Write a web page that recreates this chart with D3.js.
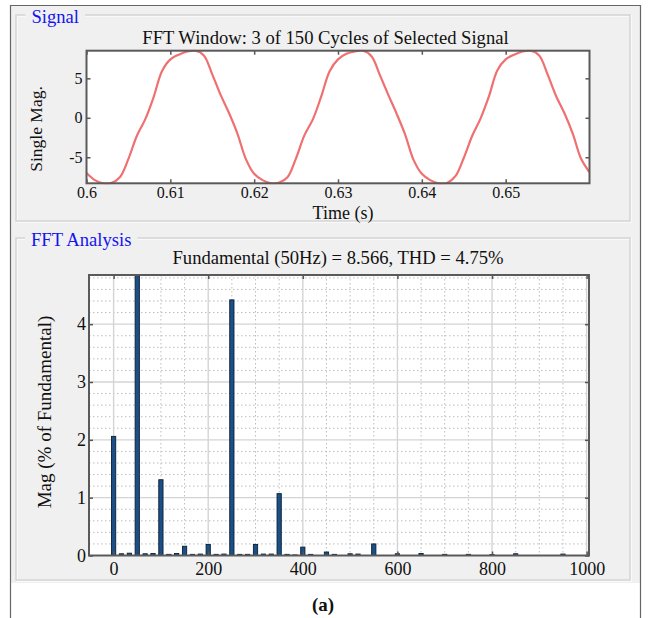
<!DOCTYPE html>
<html><head><meta charset="utf-8">
<script src="https://cdn.jsdelivr.net/npm/d3@7"></script>
<style>
body{margin:0;background:#fff}
svg{display:block}
text{font-family:"Liberation Serif","Times New Roman",serif;fill:#111}
</style>
</head><body>
<svg id="c" width="649" height="618"></svg>
<script>
// ---------- DATA ----------
const signalTimes = [
  0.600,0.601,0.602,0.603,0.604,0.605,0.606,0.607,0.608,0.609,
  0.610,0.611,0.612,0.613,0.614,0.615,0.616,0.617,0.618,0.619,
  0.620,0.621,0.622,0.623,0.624,0.625,0.626,0.627,0.628,0.629,
  0.630,0.631,0.632,0.633,0.634,0.635,0.636,0.637,0.638,0.639,
  0.640,0.641,0.642,0.643,0.644,0.645,0.646,0.647,0.648,0.649,
  0.650,0.651,0.652,0.653,0.654,0.655,0.656,0.657,0.658,0.659,
  0.660
];
const signalValues = [
  -7.0,-7.9,-8.3,-8.25,-7.5,-5.2,-2.3,-0.2,2.6,5.9,
  7.4,8.0,8.4,8.5,7.9,5.5,2.9,0.6,-2.0,-5.2,
  -7.1,-7.9,-8.3,-8.2,-7.5,-5.1,-2.2,-0.2,2.7,5.9,
  7.4,8.1,8.4,8.5,7.8,5.4,2.9,0.5,-2.1,-5.3,
  -7.1,-7.9,-8.3,-8.25,-7.4,-5.1,-2.3,-0.1,2.7,6.0,
  7.4,8.0,8.4,8.5,7.9,5.5,2.8,0.6,-2.0,-5.2,
  -6.9
];
const signalXTicks = [0.6,0.61,0.62,0.63,0.64,0.65];
const signalXTickLabels = ["0.6","0.61","0.62","0.63","0.64","0.65"];
const signalYTicks = [-5,0,5];
const signalYTickLabels = ["-5","0","5"];

const fftFreqs = [
  0,16.7,33.3,50,66.7,83.3,100,116.7,133.3,150,166.7,183.3,200,216.7,233.3,
  250,266.7,283.3,300,316.7,333.3,350,366.7,383.3,400,416.7,450,466.7,500,516.7,
  550,600,650,700,750,800,850,950
];
const fftMags = [
  2.06,0.03,0.04,100,0.03,0.035,1.31,0.02,0.035,0.16,0.02,0.025,0.19,0.02,0.025,
  4.42,0.02,0.02,0.19,0.025,0.025,1.07,0.02,0.01,0.145,0.02,0.06,0.02,0.03,0.025,
  0.2,0.03,0.035,0.02,0.02,0.015,0.03,0.025
];
const fftXTicks = [0,200,400,600,800,1000];
const fftXTickLabels = ["0","200","400","600","800","1000"];
const fftYTicks = [0,1,2,3,4];
const fftYTickLabels = ["0","1","2","3","4"];

// ---------- DRAW ----------
const svg = d3.select("#c");
const W = 649, H = 618;
const panelBg = "#f0f0f0";

svg.append("rect").attr("width",W).attr("height",H).attr("fill","#fff");
svg.append("rect").attr("x",11).attr("y",5).attr("width",629).attr("height",578).attr("fill",panelBg);
svg.append("path").attr("d","M10.5,618 V5.5 H640.5 V618").attr("fill","none").attr("stroke","#666").attr("stroke-width",1.2);

function panel(x0,y0,x1,y1,label,lx,ly){
  const g = svg.append("g");
  g.append("rect").attr("x",x0+1).attr("y",y0+1).attr("width",x1-x0).attr("height",y1-y0)
    .attr("fill","none").attr("stroke","#fbfbfb").attr("stroke-width",1.5);
  g.append("rect").attr("x",x0).attr("y",y0).attr("width",x1-x0).attr("height",y1-y0)
    .attr("fill","none").attr("stroke","#d4d4d4").attr("stroke-width",1.5);
  const t = g.append("text").attr("x",lx).attr("y",ly).attr("font-size",18.6)
    .style("fill","#1414f0").text(label);
  const bb = t.node().getBBox();
  g.insert("rect","text").attr("x",bb.x-6).attr("y",y0-4).attr("width",bb.width+12).attr("height",8).attr("fill",panelBg);
}
panel(16,15,630,221,"Signal",31.5,23);
panel(16,238,630,580,"FFT Analysis",31,246);

function styleAxis(sel){
  sel.select(".domain").remove();
  sel.selectAll(".tick line").attr("stroke","#555").attr("stroke-width",1.5);
  sel.selectAll(".tick text").style("fill","#111");
}

// ---------- Top plot ----------
const t0 = {l:86.5,r:589.5,t:50.7,b:183.3};
const xs = d3.scaleLinear().domain([0.6,0.66]).range([t0.l,t0.r]);
const ys = d3.scaleLinear().domain([d3.min(signalValues),d3.max(signalValues)]).range([t0.b,t0.t]);
const topG = svg.append("g");
topG.append("rect").attr("x",t0.l).attr("y",t0.t).attr("width",t0.r-t0.l).attr("height",t0.b-t0.t).attr("fill","#fff");
topG.append("defs").append("clipPath").attr("id","clipTop").append("rect")
  .attr("x",t0.l).attr("y",t0.t-1).attr("width",t0.r-t0.l).attr("height",t0.b-t0.t+2);
const line = d3.line().x((d,i)=>xs(signalTimes[i])).y(d=>ys(d)).curve(d3.curveCatmullRom.alpha(0.5));
topG.append("path").datum(signalValues).attr("d",line).attr("fill","none")
  .attr("stroke","#f07070").attr("stroke-width",2.2).attr("clip-path","url(#clipTop)");

const xAxTop = topG.append("g").attr("transform",`translate(0,${t0.b})`)
  .call(d3.axisBottom(xs).tickValues(signalXTicks).tickFormat((d,i)=>signalXTickLabels[i]).tickSize(-4));
styleAxis(xAxTop);
xAxTop.selectAll("text").attr("font-size",16).attr("y",14.5).attr("dy",0);
topG.append("g").attr("transform",`translate(0,${t0.t})`)
  .call(d3.axisTop(xs).tickValues(signalXTicks).tickFormat("").tickSize(-4)).call(styleAxis);
const yAxTop = topG.append("g").attr("transform",`translate(${t0.l},0)`)
  .call(d3.axisLeft(ys).tickValues(signalYTicks).tickFormat((d,i)=>signalYTickLabels[i]).tickSize(-4).tickPadding(4));
styleAxis(yAxTop);
yAxTop.selectAll("text").attr("font-size",16);
topG.append("g").attr("transform",`translate(${t0.r},0)`)
  .call(d3.axisRight(ys).tickValues(signalYTicks).tickFormat("").tickSize(-4)).call(styleAxis);
topG.append("rect").attr("x",t0.l).attr("y",t0.t).attr("width",t0.r-t0.l).attr("height",t0.b-t0.t)
  .attr("fill","none").attr("stroke","#5a5a5a").attr("stroke-width",2);
topG.append("text").attr("x",325.5).attr("y",44).attr("text-anchor","middle").attr("font-size",18.6)
  .text("FFT Window: 3 of 150 Cycles of Selected Signal");
topG.append("text").attr("x",343).attr("y",219).attr("text-anchor","middle").attr("font-size",18).text("Time (s)");
topG.append("text").attr("transform","translate(42,129) rotate(-90)").attr("text-anchor","middle").attr("font-size",17.5).text("Single Mag.");

// ---------- Bottom plot ----------
const b0 = {l:89,r:589,t:275,b:555.5};
const xb = d3.scaleLinear().domain([-52,1005]).range([b0.l,b0.r]);
const yb = d3.scaleLinear().domain([0,4.85]).range([b0.b,b0.t]);
const bot = svg.append("g");
bot.append("rect").attr("x",b0.l).attr("y",b0.t).attr("width",b0.r-b0.l).attr("height",b0.b-b0.t).attr("fill","#fff");
const minorX = d3.range(0,1001,50).filter(v=>v%200!==0);
const minorY = d3.range(0.2,4.85,0.2).filter(v=>Math.abs(v-Math.round(v))>0.01);
bot.append("g").selectAll("line").data(minorX).join("line")
  .attr("x1",d=>xb(d)).attr("x2",d=>xb(d)).attr("y1",b0.t).attr("y2",b0.b)
  .attr("stroke","#bdbdbd").attr("stroke-dasharray","1.5,2.5");
bot.append("g").selectAll("line").data(minorY).join("line")
  .attr("y1",d=>yb(d)).attr("y2",d=>yb(d)).attr("x1",b0.l).attr("x2",b0.r)
  .attr("stroke","#bdbdbd").attr("stroke-dasharray","1.5,2.5");
bot.append("g").selectAll("line").data(fftXTicks).join("line")
  .attr("x1",d=>xb(d)).attr("x2",d=>xb(d)).attr("y1",b0.t).attr("y2",b0.b)
  .attr("stroke","#d4d4d4").attr("stroke-width",1.4);
bot.append("g").selectAll("line").data(fftYTicks.filter(d=>d>0)).join("line")
  .attr("y1",d=>yb(d)).attr("y2",d=>yb(d)).attr("x1",b0.l).attr("x2",b0.r)
  .attr("stroke","#d4d4d4").attr("stroke-width",1.4);
bot.append("defs").append("clipPath").attr("id","clipBot").append("rect")
  .attr("x",b0.l).attr("y",b0.t).attr("width",b0.r-b0.l).attr("height",b0.b-b0.t);
const barW = xb(9)-xb(0);
bot.append("g").attr("clip-path","url(#clipBot)").selectAll("rect").data(fftMags).join("rect")
  .attr("x",(d,i)=>xb(fftFreqs[i])-barW/2).attr("width",barW)
  .attr("y",d=>yb(d)).attr("height",d=>Math.max(0,yb(0)-yb(d)))
  .attr("fill","#1b4f86").attr("stroke","#0b2035").attr("stroke-width",0.9);

const xAxB = bot.append("g").attr("transform",`translate(0,${b0.b})`)
  .call(d3.axisBottom(xb).tickValues(fftXTicks).tickFormat((d,i)=>fftXTickLabels[i]).tickSize(-4));
styleAxis(xAxB);
xAxB.selectAll("text").attr("font-size",18).attr("y",19.5).attr("dy",0);
bot.append("g").attr("transform",`translate(0,${b0.t})`)
  .call(d3.axisTop(xb).tickValues(fftXTicks).tickFormat("").tickSize(-4)).call(styleAxis);
const yAxB = bot.append("g").attr("transform",`translate(${b0.l},0)`)
  .call(d3.axisLeft(yb).tickValues(fftYTicks).tickFormat((d,i)=>fftYTickLabels[i]).tickSize(-4).tickPadding(3));
styleAxis(yAxB);
yAxB.selectAll("text").attr("font-size",18);
bot.append("g").attr("transform",`translate(${b0.r},0)`)
  .call(d3.axisRight(yb).tickValues(fftYTicks).tickFormat("").tickSize(-4)).call(styleAxis);
bot.append("rect").attr("x",b0.l).attr("y",b0.t).attr("width",b0.r-b0.l).attr("height",b0.b-b0.t)
  .attr("fill","none").attr("stroke","#5a5a5a").attr("stroke-width",2);
bot.append("text").attr("x",338).attr("y",264).attr("text-anchor","middle").attr("font-size",18.6)
  .text("Fundamental (50Hz) = 8.566, THD = 4.75%");
bot.append("text").attr("transform","translate(51,412) rotate(-90)").attr("text-anchor","middle").attr("font-size",19)
  .text("Mag (% of Fundamental)");

svg.append("text").attr("x",323).attr("y",611).attr("text-anchor","middle").attr("font-size",19)
  .attr("font-weight","bold").text("(a)");
</script>
</body></html>
